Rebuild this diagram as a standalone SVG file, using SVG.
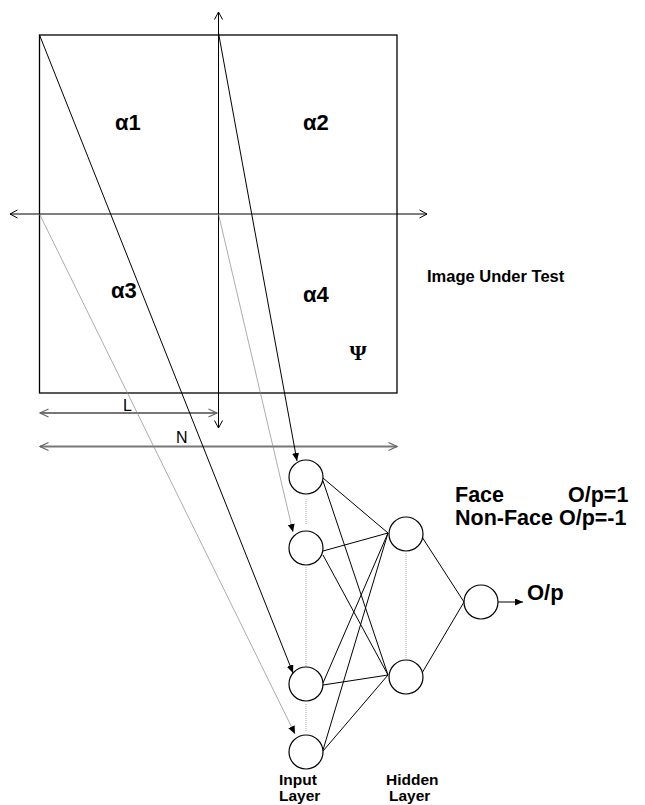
<svg xmlns="http://www.w3.org/2000/svg" width="645" height="805" viewBox="0 0 645 805">
<style>
.t{font-family:"Liberation Sans",Arial,sans-serif;fill:#000}
.b{font-weight:bold}
.node{fill:#fff;stroke:#000;stroke-width:1.2}
.ln{stroke:#000;stroke-width:1;fill:none}
.gray{stroke:#888;stroke-width:0.7;fill:none}
.dim{stroke:#777;stroke-width:2;fill:none}
.dot{stroke:#aaa;stroke-width:1;stroke-dasharray:1 1;fill:none}
</style>
<defs>
<marker id="open" markerWidth="12" markerHeight="12" refX="8" refY="5" orient="auto-start-reverse" markerUnits="userSpaceOnUse"><path d="M0.5,1 L8,5 L0.5,9" fill="none" stroke="#000" stroke-width="1"/></marker>
<marker id="openg" markerWidth="12" markerHeight="12" refX="9" refY="5" orient="auto-start-reverse" markerUnits="userSpaceOnUse"><path d="M0.5,1 L9,5 L0.5,9" fill="none" stroke="#666" stroke-width="1.2"/></marker>
<marker id="fill" markerWidth="10" markerHeight="8" refX="8" refY="3.5" orient="auto" markerUnits="userSpaceOnUse"><path d="M0,0 L8,3.5 L0,7 z" fill="#000"/></marker>
</defs>
<g id="image">
<rect x="39.5" y="35" width="357.5" height="358" fill="none" stroke="#000" stroke-width="1.3"/>
<text class="t b" x="115" y="130" font-size="22">α1</text>
<text class="t b" x="303" y="130" font-size="22">α2</text>
<text class="t b" x="111" y="298" font-size="22">α3</text>
<text class="t b" x="303" y="302" font-size="22">α4</text>
<text x="358" y="360" font-size="22" font-weight="bold" text-anchor="middle" font-family="Liberation Serif,serif">Ψ</text>
<text class="t b" x="427" y="282" font-size="16.5">Image Under Test</text>
<text class="t" x="123" y="411" font-size="16">L</text>
<text class="t" x="176" y="443" font-size="16">N</text>
</g>
<g id="connectors">
<line class="ln" x1="218.5" y1="12" x2="218.5" y2="428" marker-start="url(#open)" marker-end="url(#open)"/>
<line class="ln" x1="10" y1="214" x2="427" y2="214" marker-start="url(#open)" marker-end="url(#open)"/>
<line class="dim" x1="40" y1="413" x2="217" y2="413" marker-start="url(#openg)" marker-end="url(#openg)"/>
<line class="dim" x1="40" y1="446.5" x2="397" y2="446.5" marker-start="url(#openg)" marker-end="url(#openg)"/>
<line class="ln" x1="39.5" y1="35" x2="293" y2="673" marker-end="url(#fill)"/>
<line class="ln" x1="218.5" y1="33" x2="297" y2="461" marker-end="url(#fill)"/>
<line class="gray" x1="39.5" y1="214" x2="295" y2="734" marker-end="url(#fill)"/>
<line class="gray" x1="218.5" y1="214" x2="293" y2="532" marker-end="url(#fill)"/>
<line class="ln" x1="323" y1="478" x2="388" y2="533"/>
<line class="ln" x1="323" y1="481" x2="388" y2="675"/>
<line class="ln" x1="323" y1="551" x2="388" y2="533"/>
<line class="ln" x1="323" y1="555" x2="388" y2="675"/>
<line class="ln" x1="323" y1="683" x2="388" y2="533"/>
<line class="ln" x1="323" y1="685" x2="388" y2="675"/>
<line class="ln" x1="323" y1="750" x2="388" y2="533"/>
<line class="ln" x1="323" y1="751" x2="388" y2="675"/>
<line class="ln" x1="422" y1="537" x2="464" y2="602"/>
<line class="ln" x1="422" y1="673" x2="464" y2="602"/>
<line class="ln" x1="498" y1="602" x2="523" y2="602" marker-end="url(#fill)"/>
<line class="dot" x1="306" y1="499" x2="306" y2="524"/>
<line class="dot" x1="306" y1="567" x2="306" y2="666"/>
<line class="dot" x1="306" y1="704" x2="306" y2="731"/>
<line class="dot" x1="406" y1="553" x2="406" y2="659"/>
</g>
<g id="in1"><circle class="node" cx="306" cy="477" r="17"/></g>
<g id="in2"><circle class="node" cx="306" cy="548" r="17"/></g>
<g id="in3"><circle class="node" cx="306" cy="684" r="17"/></g>
<g id="in4"><circle class="node" cx="306" cy="752" r="17"/></g>
<g id="hid1"><circle class="node" cx="406" cy="534" r="17"/></g>
<g id="hid2"><circle class="node" cx="406" cy="677" r="17"/></g>
<g id="out"><circle class="node" cx="481" cy="602" r="17"/>
<text class="t b" x="527" y="600" font-size="22">O/p</text></g>
<g id="labels">
<text class="t b" x="455" y="502" font-size="21.5">Face</text>
<text class="t b" x="568" y="502" font-size="21.5">O/p=1</text>
<text class="t b" x="455" y="525" font-size="21.5">Non-Face O/p=-1</text>
<text class="t b" x="279" y="785" font-size="15.5">Input</text>
<text class="t b" x="279" y="801" font-size="15.5">Layer</text>
<text class="t b" x="386" y="785" font-size="15.5">Hidden</text>
<text class="t b" x="389" y="801" font-size="15.5">Layer</text>
</g>
</svg>
